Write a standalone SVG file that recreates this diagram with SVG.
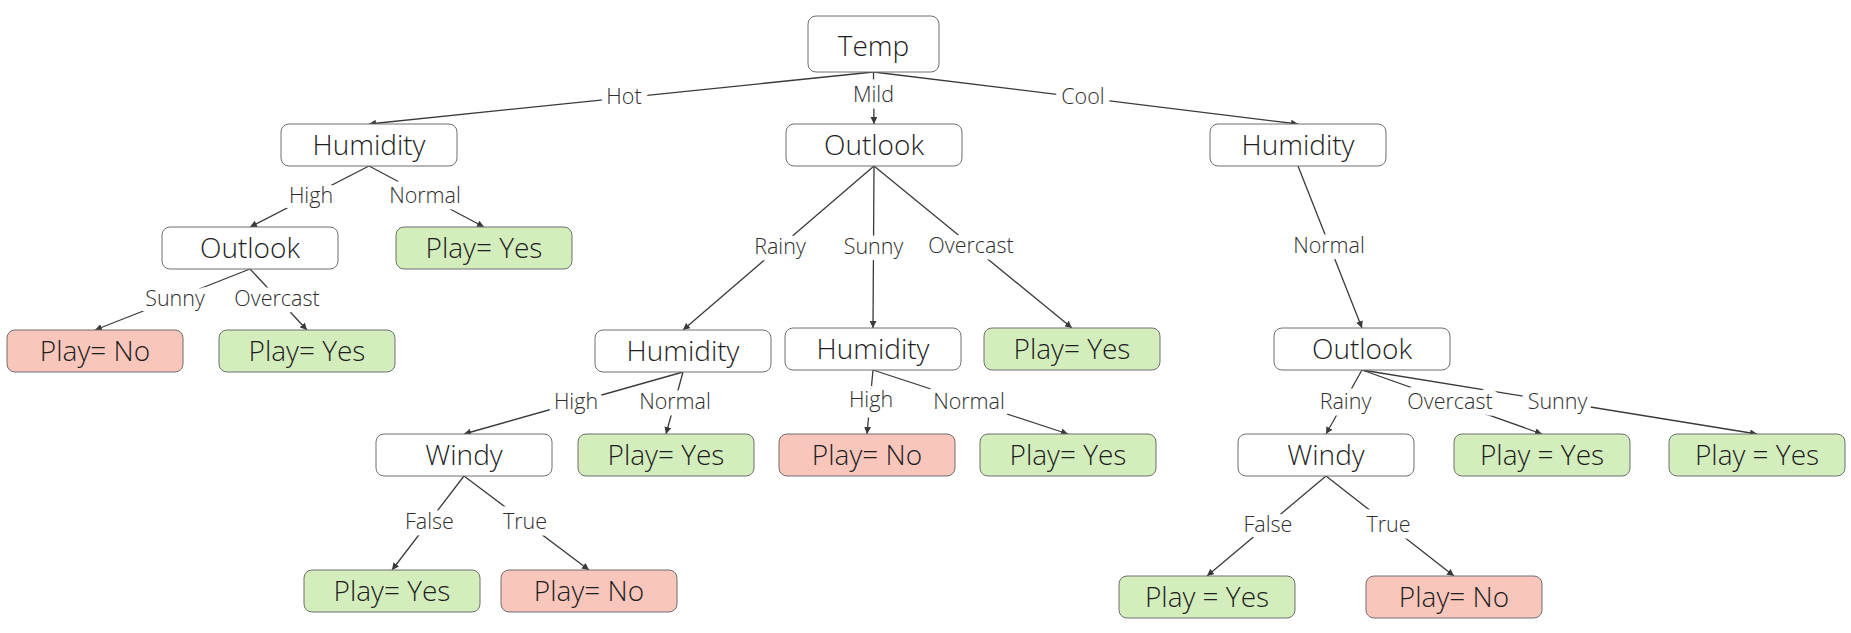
<svg xmlns="http://www.w3.org/2000/svg" width="1851" height="633" viewBox="0 0 1851 633">
<defs>
<style>
.node rect{stroke:#6f6f6f;stroke-width:1;rx:8;ry:8}
.plain rect{fill:#fff}
.yes rect{fill:#d4edbd}
.no rect{fill:#f9c6bb}
.node text{font-family:"Open Sans","Liberation Sans",sans-serif;font-size:28px;font-weight:300;fill:#1e1e1e;text-anchor:middle}
.edge line{stroke:#3a3a3a;stroke-width:1.3;fill:none}
.lbl text{font-family:"Open Sans","Liberation Sans",sans-serif;font-size:21.5px;font-weight:300;fill:#2e2e2e;text-anchor:middle;stroke:#fff;stroke-width:13;stroke-linejoin:round;paint-order:stroke}
</style>
<marker id="arr" viewBox="0 0 10 10" refX="10" refY="5" markerWidth="7" markerHeight="7" markerUnits="userSpaceOnUse" orient="auto">
<path d="M0,0 L10,5 L0,10 z" fill="#3a3a3a"/>
</marker>
</defs>
<rect width="1851" height="633" fill="#fff"/>
<g id="connectors" class="edge">
<line x1="873.5" y1="72" x2="369" y2="124" marker-end="url(#arr)"/>
<line x1="873.5" y1="72" x2="874" y2="124" marker-end="url(#arr)"/>
<line x1="873.5" y1="72" x2="1298" y2="124" marker-end="url(#arr)"/>
<line x1="369" y1="166" x2="250" y2="227" marker-end="url(#arr)"/>
<line x1="369" y1="166" x2="484" y2="227" marker-end="url(#arr)"/>
<line x1="250" y1="269" x2="95" y2="330" marker-end="url(#arr)"/>
<line x1="250" y1="269" x2="307" y2="330" marker-end="url(#arr)"/>
<line x1="874" y1="166" x2="683" y2="330" marker-end="url(#arr)"/>
<line x1="874" y1="166" x2="873" y2="328" marker-end="url(#arr)"/>
<line x1="874" y1="166" x2="1072" y2="328" marker-end="url(#arr)"/>
<line x1="1298" y1="166" x2="1362" y2="328" marker-end="url(#arr)"/>
<line x1="683" y1="372" x2="464" y2="434" marker-end="url(#arr)"/>
<line x1="683" y1="372" x2="666" y2="434" marker-end="url(#arr)"/>
<line x1="873" y1="370" x2="867" y2="434" marker-end="url(#arr)"/>
<line x1="873" y1="370" x2="1068" y2="434" marker-end="url(#arr)"/>
<line x1="1362" y1="370" x2="1326" y2="434" marker-end="url(#arr)"/>
<line x1="1362" y1="370" x2="1542" y2="434" marker-end="url(#arr)"/>
<line x1="1362" y1="370" x2="1757" y2="434" marker-end="url(#arr)"/>
<line x1="464" y1="476" x2="392" y2="570" marker-end="url(#arr)"/>
<line x1="464" y1="476" x2="589" y2="570" marker-end="url(#arr)"/>
<line x1="1326" y1="476" x2="1207" y2="576" marker-end="url(#arr)"/>
<line x1="1326" y1="476" x2="1454" y2="576" marker-end="url(#arr)"/>
</g>
<g id="labels" class="lbl">
<text x="624" y="104">Hot</text>
<text x="873.5" y="102">Mild</text>
<text x="1083" y="104">Cool</text>
<text x="311" y="203">High</text>
<text x="425" y="203">Normal</text>
<text x="175" y="306">Sunny</text>
<text x="277" y="306">Overcast</text>
<text x="780" y="254">Rainy</text>
<text x="873.5" y="254">Sunny</text>
<text x="971" y="253">Overcast</text>
<text x="1329" y="253">Normal</text>
<text x="576" y="409">High</text>
<text x="675" y="409">Normal</text>
<text x="871" y="407">High</text>
<text x="969" y="409">Normal</text>
<text x="1345.5" y="409">Rainy</text>
<text x="1450" y="409">Overcast</text>
<text x="1557.5" y="409">Sunny</text>
<text x="429.5" y="529">False</text>
<text x="525" y="529">True</text>
<text x="1268" y="532">False</text>
<text x="1388.5" y="532">True</text>
</g>
<g id="n_temp" class="node plain"><rect x="808" y="16" width="131" height="56" rx="10" ry="10"/><text x="873.5" y="56">Temp</text></g>
<g id="n_hum1" class="node plain"><rect x="281" y="124" width="176" height="42"/><text x="369" y="155">Humidity</text></g>
<g id="n_out1" class="node plain"><rect x="786" y="124" width="176" height="42"/><text x="874" y="155">Outlook</text></g>
<g id="n_hum2" class="node plain"><rect x="1210" y="124" width="176" height="42"/><text x="1298" y="155">Humidity</text></g>
<g id="n_out2" class="node plain"><rect x="162" y="227" width="176" height="42"/><text x="250" y="258">Outlook</text></g>
<g id="n_yes1" class="node yes"><rect x="396" y="227" width="176" height="42"/><text x="484" y="258">Play= Yes</text></g>
<g id="n_no1" class="node no"><rect x="7" y="330" width="176" height="42"/><text x="95" y="361">Play= No</text></g>
<g id="n_yes2" class="node yes"><rect x="219" y="330" width="176" height="42"/><text x="307" y="361">Play= Yes</text></g>
<g id="n_hum3" class="node plain"><rect x="595" y="330" width="176" height="42"/><text x="683" y="361">Humidity</text></g>
<g id="n_hum4" class="node plain"><rect x="785" y="328" width="176" height="42"/><text x="873" y="359">Humidity</text></g>
<g id="n_yes3" class="node yes"><rect x="984" y="328" width="176" height="42"/><text x="1072" y="359">Play= Yes</text></g>
<g id="n_out3" class="node plain"><rect x="1274" y="328" width="176" height="42"/><text x="1362" y="359">Outlook</text></g>
<g id="n_windy1" class="node plain"><rect x="376" y="434" width="176" height="42"/><text x="464" y="465">Windy</text></g>
<g id="n_yes4" class="node yes"><rect x="578" y="434" width="176" height="42"/><text x="666" y="465">Play= Yes</text></g>
<g id="n_no2" class="node no"><rect x="779" y="434" width="176" height="42"/><text x="867" y="465">Play= No</text></g>
<g id="n_yes5" class="node yes"><rect x="980" y="434" width="176" height="42"/><text x="1068" y="465">Play= Yes</text></g>
<g id="n_windy2" class="node plain"><rect x="1238" y="434" width="176" height="42"/><text x="1326" y="465">Windy</text></g>
<g id="n_yes6" class="node yes"><rect x="1454" y="434" width="176" height="42"/><text x="1542" y="465">Play = Yes</text></g>
<g id="n_yes7" class="node yes"><rect x="1669" y="434" width="176" height="42"/><text x="1757" y="465">Play = Yes</text></g>
<g id="n_yes8" class="node yes"><rect x="304" y="570" width="176" height="42"/><text x="392" y="601">Play= Yes</text></g>
<g id="n_no3" class="node no"><rect x="501" y="570" width="176" height="42"/><text x="589" y="601">Play= No</text></g>
<g id="n_yes9" class="node yes"><rect x="1119" y="576" width="176" height="42"/><text x="1207" y="607">Play = Yes</text></g>
<g id="n_no4" class="node no"><rect x="1366" y="576" width="176" height="42"/><text x="1454" y="607">Play= No</text></g>
</svg>
